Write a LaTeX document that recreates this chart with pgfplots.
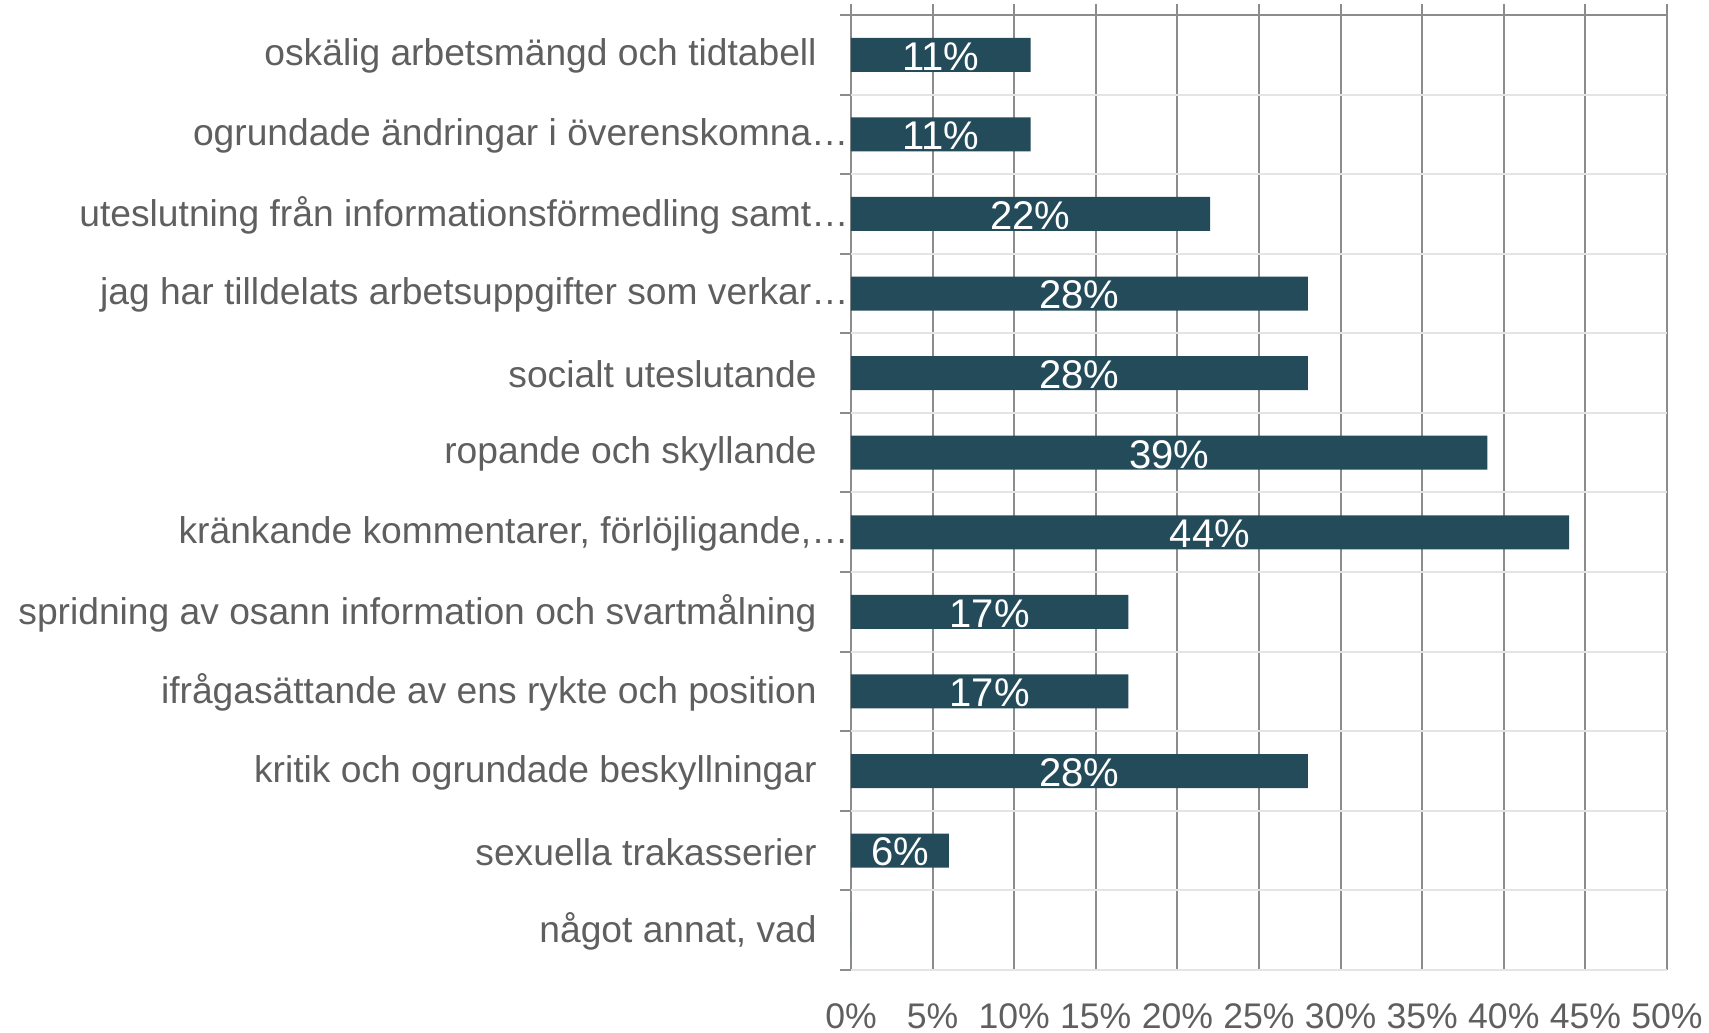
\documentclass[border=0pt]{standalone}
\usepackage{pgfplots}
\pgfplotsset{compat=1.18}
\usepackage{pgfplotstable}
\usepackage{fontspec}
\setmainfont{Liberation Sans}
\definecolor{barc}{HTML}{234B5A}
\definecolor{txt}{HTML}{5F5F5F}
\definecolor{vgrid}{HTML}{8C8C8C}
\definecolor{hgrid}{HTML}{E4E4E4}
\pgfplotstableread{
y v
11 11
10 11
9 22
8 28
7 28
6 39
5 44
4 17
3 17
2 28
1 6
0 0
}\datatab
\newcommand{\pad}{\hspace*{16pt}}
\begin{document}
\begin{tikzpicture}
\begin{axis}[
 scale only axis, width=408pt, height=477.5pt,
 at={(0,0)}, anchor=south west,
 xmin=0, xmax=50, ymin=-0.5, ymax=11.5,
 axis line style={draw=none},
 xtick={0,5,...,50},
 xtick pos=upper, xticklabel pos=lower,
 tick align=outside,
 major tick length=5.5pt,
 tick style={vgrid, line width=1pt},
 xmajorgrids, major x grid style={vgrid, line width=1pt},
 ytick={-0.5,0.5,...,11.5},
 yticklabels={},
 ytick pos=left,
 ymajorgrids, major y grid style={hgrid, line width=1pt},
 extra y ticks={0,1,...,11},
 extra y tick labels={
  {något annat, vad\pad},
  {sexuella trakasserier\pad},
  {kritik och ogrundade beskyllningar\pad},
  {ifrågasättande av ens rykte och position\pad},
  {spridning av osann information och svartmålning\pad},
  {kränkande kommentarer, förlöjligande,…},
  {ropande och skyllande\pad},
  {socialt uteslutande\pad},
  {jag har tilldelats arbetsuppgifter som verkar…},
  {uteslutning från informationsförmedling samt…},
  {ogrundade ändringar i överenskomna…},
  {oskälig arbetsmängd och tidtabell\pad}},
 extra y tick style={major tick length=0pt, grid=none},
 xticklabel={\pgfmathprintnumber{\tick}\%},
 /pgf/number format/assume math mode=true,
 xticklabel style={font=\fontsize{17.8}{20}\selectfont, text=txt, anchor=base, inner sep=0pt, yshift=-23.8pt},
 yticklabel style={font=\fontsize{18.6}{20}\selectfont, text=txt, anchor=east, inner sep=0pt, xshift=-1pt, yshift=-0.7pt},
 clip=false,
]
\addplot[xbar, bar width=17pt, bar shift=0pt, fill=barc, draw=none] table[x=v, y=y] {\datatab};
\addplot[draw=none, mark=none, point meta=explicit,
  nodes near coords={\pgfmathfloatifflags{\pgfplotspointmeta}{0}{}{\pgfmathprintnumber{\pgfplotspointmeta}\%}},
  every node near coord/.append style={anchor=center, text=white, yshift=-0.8pt, font=\fontsize{20}{22}\selectfont}]
  table[x expr=\thisrow{v}/2, y=y, meta=v] {\datatab};
\draw[vgrid, line width=1pt] (rel axis cs:0,1) -- (rel axis cs:1,1);
\end{axis}
\pgfresetboundingbox
\useasboundingbox (-425.5pt,-31.5pt) rectangle (429pt,485pt);
\end{tikzpicture}
\end{document}
